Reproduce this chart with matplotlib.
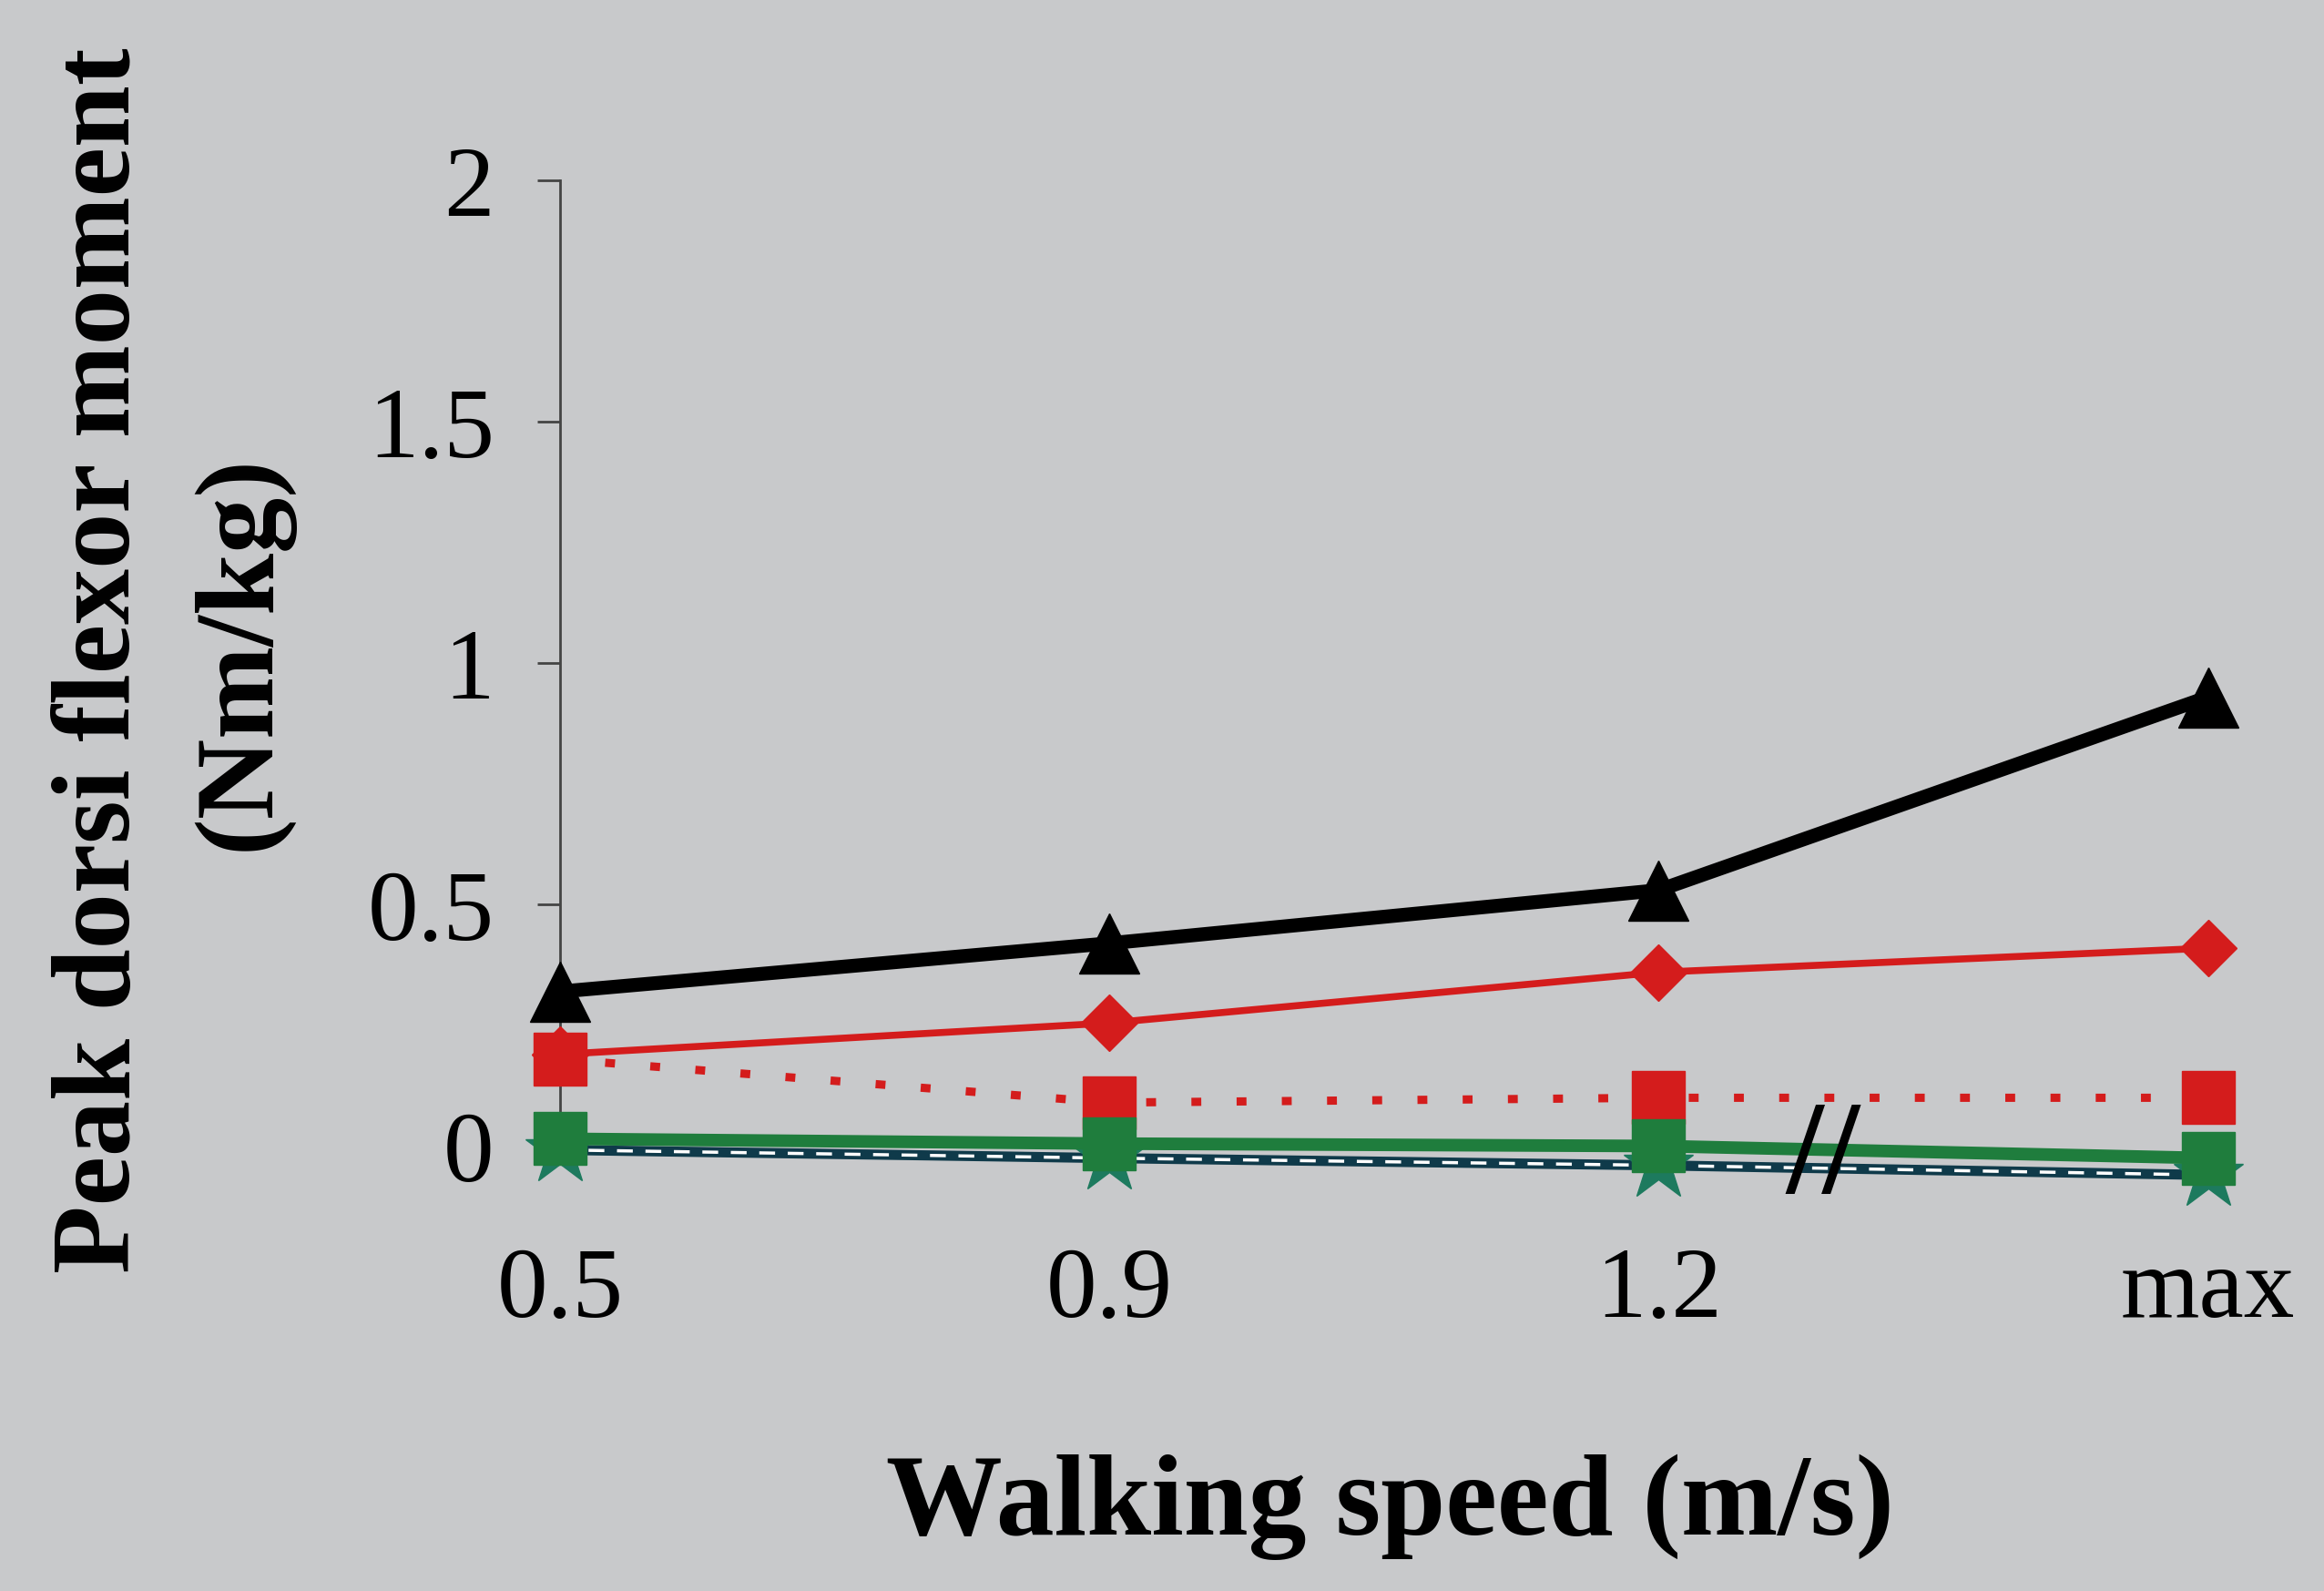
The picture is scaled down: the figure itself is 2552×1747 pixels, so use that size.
import matplotlib
matplotlib.use("Agg")
import matplotlib.pyplot as plt

# speeds shown as equally spaced categories
speeds = ["0.5", "0.9", "1.2", "max"]

# peak dorsi flexor moment (Nm/kg)
black_tri = [0.32, 0.42, 0.53, 0.93]
red_diamond = [0.19, 0.255, 0.36, 0.41]
red_square = [0.18, 0.09, 0.10, 0.10]
green_square = [0.015, 0.005, 0.0, -0.025]
teal_star = [-0.008, -0.025, -0.04, -0.06]

yticks = [0, 0.5, 1, 1.5, 2]
ytick_labels = ["0", "0.5", "1", "1.5", "2"]

bg = "#c8c9cb"
serif = ["Liberation Serif", "DejaVu Serif"]

fig = plt.figure(figsize=(25.52, 17.47), dpi=100)
fig.patch.set_facecolor(bg)
ax = fig.add_axes([0.241, 0.219, 0.7445, 0.6826])
ax.set_facecolor(bg)

x = list(range(len(speeds)))

ax.plot(x, black_tri, color="black", lw=11, marker="^", ms=48, zorder=3, clip_on=False)
ax.plot(x, red_diamond, color="#d41c1c", lw=5.5, marker="D", ms=32, zorder=4, clip_on=False)
ax.plot(x, red_square, color="#d41c1c", lw=6.5, ls=(0, (1.2, 4.3)), marker="s", ms=42,
        zorder=5, clip_on=False)
ax.plot(x, teal_star, color="#0f3a4a", lw=8, marker="*", ms=58, mfc="#1d7a5e",
        mec="#1d7a5e", zorder=6, clip_on=False)
ax.plot(x, teal_star, color="white", lw=2.5, ls=(0, (5, 4)), zorder=6.5, clip_on=False)
ax.plot(x, green_square, color="#1f7d3d", lw=10, marker="s", ms=42, zorder=7, clip_on=False)

# axis break mark between 1.2 and max
ax.text(2.3, -0.03, "//", fontsize=105, fontweight="bold", family=serif,
        ha="center", va="center", zorder=8)

ax.set_xlim(0, 3.15)
ax.set_ylim(-0.2, 2.05)
ax.set_xticks(x)
ax.set_xticklabels(speeds, family=serif, fontsize=80)
ax.set_yticks(yticks)
ax.set_yticklabels(ytick_labels, family=serif, fontsize=80)
ax.tick_params(axis="x", length=0, pad=4)
ax.tick_params(axis="y", length=18, width=2, color="#444444", pad=34)

for s in ["top", "right", "bottom"]:
    ax.spines[s].set_visible(False)
ax.spines["left"].set_bounds(0, 2)
ax.spines["left"].set_linewidth(2)
ax.spines["left"].set_color("#444444")

fig.text(0.044, 0.585, "Peak dorsi flexor moment", rotation=90, fontsize=88,
         fontweight="bold", family=serif, ha="center", va="center")
fig.text(0.104, 0.59, "(Nm/kg)", rotation=90, fontsize=88,
         fontweight="bold", family=serif, ha="center", va="center")
fig.text(0.598, 0.053, "Walking speed (m/s)", fontsize=92, fontweight="bold",
         family=serif, ha="center", va="center")

fig.savefig("out.png", dpi=100, facecolor=bg)
